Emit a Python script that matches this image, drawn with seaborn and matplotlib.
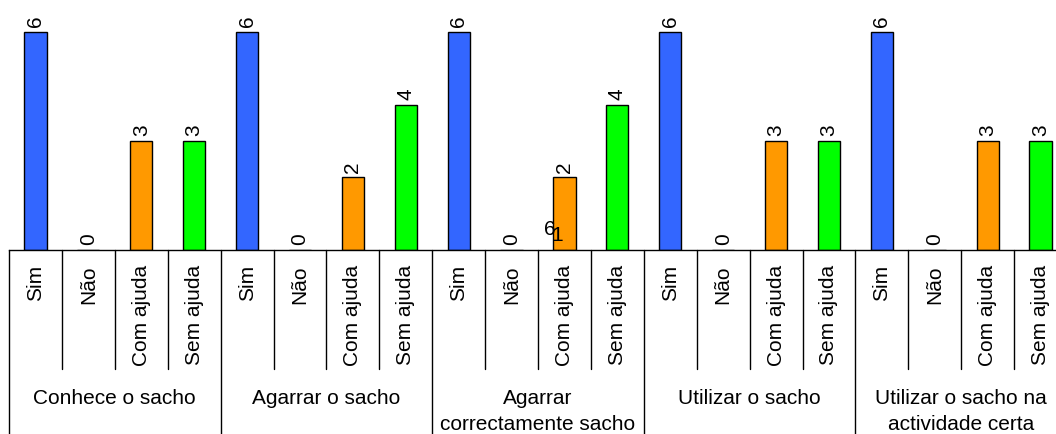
import matplotlib
matplotlib.use("Agg")
import matplotlib.pyplot as plt
import seaborn as sns
import pandas as pd

groups = ["Conhece o sacho", "Agarrar o sacho", "Agarrar\ncorrectamente sacho",
          "Utilizar o sacho", "Utilizar o sacho na\nactividade certa"]
answers = ["Sim", "Não", "Com ajuda", "Sem ajuda"]
values = [
    [6, 0, 3, 3],
    [6, 0, 2, 4],
    [6, 0, 2, 4],
    [6, 0, 3, 3],
    [6, 0, 3, 3],
]
colors = {"Sim": "#3366FF", "Não": "#993366", "Com ajuda": "#FF9900", "Sem ajuda": "#00FF00"}

rows = []
for g, vals in zip(groups, values):
    for a, v in zip(answers, vals):
        rows.append({"slot": f"{g}|{a}", "answer": a, "value": v, "group": g})
df = pd.DataFrame(rows)
order = list(df["slot"])

sns.set_theme(style="white")
plt.rcParams["font.family"] = ["Liberation Sans", "DejaVu Sans"]

W, H = 1056, 435
fig = plt.figure(figsize=(W / 100, H / 100), dpi=100)
slot_w = 52.9
ax_left, ax_bottom_px = 9, 251
ax = fig.add_axes([ax_left / W, (H - ax_bottom_px) / H, 20 * slot_w / W, ax_bottom_px / H])

sns.barplot(data=df, x="slot", y="value", hue="answer", order=order, hue_order=answers,
            palette=colors, saturation=1, dodge=False, width=0.42, edgecolor="black",
            linewidth=1.0, legend=False, ax=ax)

ax.set_xlim(-0.5, 19.5)
ax.set_ylim(0, 6.908)
ax.set_xlabel("")
ax.set_ylabel("")
ax.set_xticks([])
ax.set_yticks([])
for s in ["top", "right", "left"]:
    ax.spines[s].set_visible(False)
ax.spines["bottom"].set_color("black")
ax.spines["bottom"].set_linewidth(1.0)

fs = 15
# value labels
for i, r in df.iterrows():
    ax.annotate(str(r["value"]), (i, r["value"]), xytext=(0, 4), textcoords="offset points",
                rotation=90, ha="center", va="bottom", fontsize=fs, color="black")

# stray overlapping labels as in reference
ax.text(9.72, 0.58, "6", ha="center", va="center", fontsize=fs, color="black")
ax.text(9.87, 0.42, "1", ha="center", va="center", fontsize=fs, color="black")

tr = ax.get_xaxis_transform()
inner_bottom = -(370 - 251) / 251
outer_bottom = -(435 - 251) / 251
for k in range(21):
    x = k - 0.5
    yb = outer_bottom if k % 4 == 0 else inner_bottom
    ax.plot([x, x], [0, yb], transform=tr, color="black", lw=1.0, clip_on=False)

for i, r in df.iterrows():
    ax.text(i, -(265 - 251) / 251, r["answer"], transform=tr, rotation=90,
            ha="center", va="top", fontsize=fs, color="black", clip_on=False)

for gi, g in enumerate(groups):
    ax.text(gi * 4 + 1.5, -(389 - 251) / 251, g, transform=tr, ha="center", va="top",
            fontsize=fs, color="black", linespacing=1.45, clip_on=False)

fig.savefig("out.png", dpi=100)
